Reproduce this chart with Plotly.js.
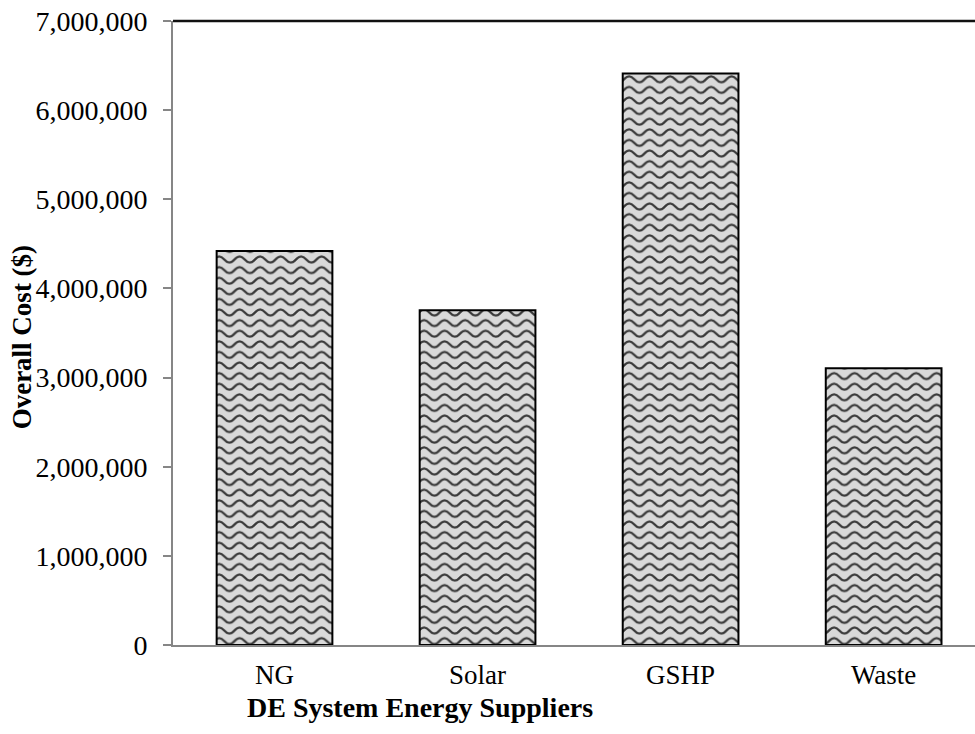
<!DOCTYPE html>
<html>
<head>
<meta charset="utf-8">
<script src="https://cdn.plot.ly/plotly-3.0.1.min.js"></script>
<style>
  html, body { margin: 0; padding: 0; background: #ffffff; }
  #chart { width: 975px; height: 734px; }
</style>
</head>
<body>
<div id="chart"></div>
<script>
// Overall cost of the distributed-energy system per energy supplier
const suppliers = ['NG', 'Solar', 'GSHP', 'Waste'];
const overallCost = [4420000, 3755000, 6410000, 3105000];
const costTicks = [0, 1000000, 2000000, 3000000, 4000000, 5000000, 6000000, 7000000];

const serif = '"Times New Roman", "Liberation Serif", serif';
const axisGrey = '#868686';

const bars = {
  type: 'bar',
  x: suppliers,
  y: overallCost,
  marker: {
    color: '#d9d9d9',
    line: { color: '#000000', width: 2 },
    pattern: {
      shape: '-',
      fillmode: 'replace',
      bgcolor: '#d9d9d9',
      fgcolor: '#383838',
      size: 10,
      solidity: 0.2
    }
  },
  hoverinfo: 'x+y'
};

const layout = {
  width: 975,
  height: 734,
  margin: { l: 173, r: 0, t: 21, b: 89, pad: 0 },
  paper_bgcolor: '#ffffff',
  plot_bgcolor: '#ffffff',
  showlegend: false,
  bargap: 0.43,
  font: { family: serif, size: 28, color: '#000000' },
  xaxis: {
    type: 'category',
    range: [-0.5, 3.45],
    showline: true,
    linecolor: axisGrey,
    linewidth: 2,
    ticks: '',
    showgrid: false,
    zeroline: false,
    ticklabelstandoff: 5,
    tickfont: { family: serif, size: 27, color: '#000000' }
  },
  yaxis: {
    range: [0, 7000000],
    autorange: false,
    tickvals: costTicks,
    tickformat: ',d',
    ticks: 'outside',
    ticklen: 8,
    tickwidth: 2,
    tickcolor: axisGrey,
    showline: true,
    linecolor: axisGrey,
    linewidth: 2,
    showgrid: false,
    zeroline: false,
    ticklabelstandoff: 10,
    tickfont: { family: serif, size: 28, color: '#000000' }
  },
  // inner tick marks every 200,000 on the value axis
  yaxis2: {
    overlaying: 'y',
    anchor: 'x',
    side: 'left',
    range: [0, 7000000],
    autorange: false,
    tick0: 0,
    dtick: 200000,
    ticks: 'inside',
    ticklen: 7,
    tickwidth: 2,
    tickcolor: axisGrey,
    showticklabels: false,
    showline: false,
    showgrid: false,
    zeroline: false
  },
  shapes: [
    {
      type: 'line', layer: 'below',
      xref: 'paper', x0: 0, x1: 1,
      yref: 'paper', y0: 1, y1: 1,
      line: { color: '#111111', width: 2.5 }
    }
  ],
  annotations: [
    {
      text: 'DE System Energy Suppliers',
      xref: 'paper', yref: 'paper',
      x: 0.3076, y: -0.1,
      xanchor: 'center', yanchor: 'middle',
      showarrow: false,
      font: { family: serif, size: 28, color: '#000000', weight: 'bold' }
    },
    {
      text: 'Overall Cost ($)',
      xref: 'paper', yref: 'paper',
      x: -0.1883, y: 0.493,
      xanchor: 'center', yanchor: 'middle',
      textangle: -90,
      showarrow: false,
      font: { family: serif, size: 27, color: '#000000', weight: 'bold' }
    }
  ]
};

// Turn the bar fill pattern into a wavy line texture
function waveFill(gd) {
  const W = 20.5, H = 10.6, c = H / 2, A = 3.0;
  const d = 'M' + (-W / 2) + ',' + c +
            ' Q' + (-W / 4) + ',' + (c + 2 * A) + ' 0,' + c +
            ' T' + (W / 2) + ',' + c +
            ' T' + W + ',' + c +
            ' T' + (1.5 * W) + ',' + c;
  gd.querySelectorAll('pattern').forEach(p => {
    p.setAttribute('width', W);
    p.setAttribute('height', H);
    const rect = p.querySelector('rect');
    if (rect) {
      rect.setAttribute('width', W);
      rect.setAttribute('height', H);
      rect.setAttribute('fill', '#d9d9d9');
    }
    const path = p.querySelector('path');
    if (path) {
      path.setAttribute('d', d);
      path.setAttribute('fill', 'none');
      path.setAttribute('stroke', '#383838');
      path.setAttribute('stroke-width', '2.3');
      path.setAttribute('opacity', '1');
      path.style.fill = 'none';
      path.style.strokeWidth = '2.3px';
      path.style.opacity = '1';
    }
  });
}

Plotly.newPlot('chart', [bars], layout, { staticPlot: true, displayModeBar: false })
  .then(waveFill);
</script>
</body>
</html>
